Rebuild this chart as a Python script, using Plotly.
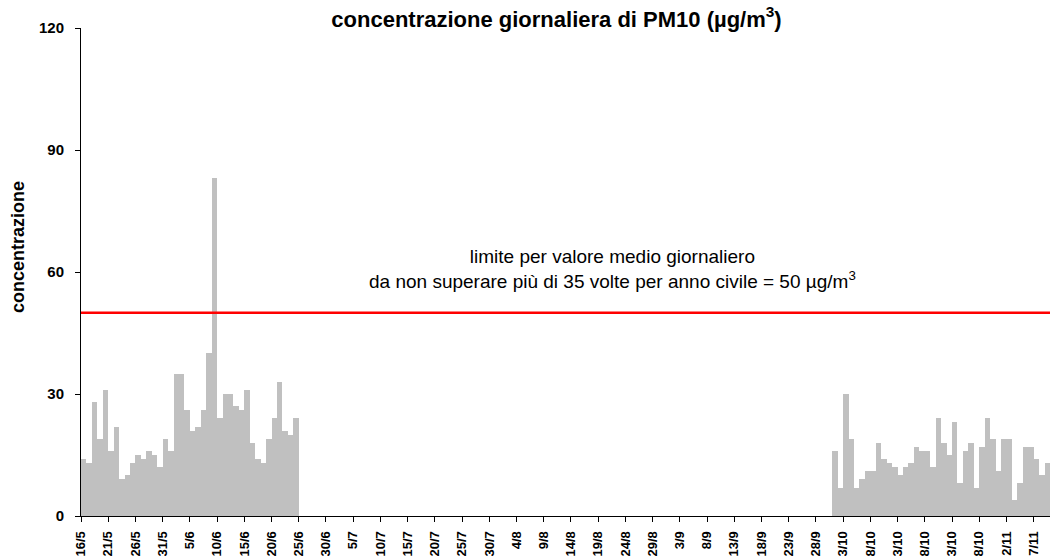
import pandas as pd
import plotly.graph_objects as go

# Daily PM10 concentrations (µg/m³)
start_date = "2023-05-16"
end_date = "2023-11-09"

# 16/5 - 24/6
values_spring = [14, 13, 28, 19, 31, 16, 22, 9, 10, 13,
                 15, 14, 16, 15, 12, 19, 16, 35, 35, 26,
                 21, 22, 26, 40, 83, 24, 30, 30, 27, 26,
                 31, 18, 14, 13, 19, 24, 33, 21, 20, 24]
spring_start = "2023-05-16"

# 1/10 - 9/11
values_autumn = [16, 7, 30, 19, 7, 9, 11, 11, 18, 14,
                 13, 12, 10, 12, 13, 17, 16, 16, 12, 24,
                 18, 15, 23, 8, 16, 18, 7, 17, 24, 19,
                 11, 19, 19, 4, 8, 17, 17, 14, 10, 13]
autumn_start = "2023-10-01"

limit_value = 50
y_ticks = [0, 30, 60, 90, 120]

dates = pd.date_range(start_date, end_date, freq="D")
series = pd.Series(index=dates, dtype=float)
series.loc[pd.date_range(spring_start, periods=len(values_spring), freq="D")] = values_spring
series.loc[pd.date_range(autumn_start, periods=len(values_autumn), freq="D")] = values_autumn

FONT = "Liberation Sans, Arial, sans-serif"

fig = go.Figure()
fig.add_trace(go.Bar(
    x=series.index,
    y=[None if pd.isna(v) else v for v in series.values],
    xperiod=86400000,
    xperiodalignment="middle",
    marker=dict(color="#C0C0C0", line=dict(width=0)),
    width=86400000,
    showlegend=False,
    hoverinfo="x+y",
))

fig.add_shape(type="line", xref="paper", yref="y", x0=0, x1=1,
              y0=limit_value, y1=limit_value,
              line=dict(color="#FF0000", width=2.5))

fig.add_annotation(
    xref="paper", yref="paper", x=0.549, y=0.507,
    text="limite per valore medio giornaliero<br>da non superare più di 35 volte per anno civile = 50 µg/m<sup>3</sup>",
    showarrow=False, align="center",
    font=dict(family=FONT, size=19, color="#000000"),
    xanchor="center", yanchor="middle",
)

# y-axis title
fig.add_annotation(
    xref="paper", yref="paper", x=0, y=0.551,
    xshift=-63, xanchor="center", yanchor="middle",
    text="<b>concentrazione</b>", textangle=-90, showarrow=False,
    font=dict(family=FONT, size=18, color="#000000"),
)

end_range = (pd.Timestamp(end_date) + pd.Timedelta(days=1)).strftime("%Y-%m-%d")

fig.update_layout(
    width=1050, height=556,
    paper_bgcolor="white", plot_bgcolor="white",
    margin=dict(l=81, r=0, t=28, b=40),
    bargap=0,
    title=dict(
        text="<b>concentrazione giornaliera di PM10 (µg/m<sup>3</sup>)</b>",
        x=0.53, xanchor="center", y=0.966, yanchor="middle",
        font=dict(family=FONT, size=22, color="#000000"),
    ),
    font=dict(family=FONT, color="#000000"),
    xaxis=dict(
        type="date",
        range=[start_date, end_range],
        tick0=start_date,
        dtick=5 * 86400000,
        tickformat="%-d/%-m",
        tickangle=-90,
        ticks="outside", ticklen=5, tickcolor="#000000", tickwidth=1,
        showline=True, linecolor="#000000", linewidth=1,
        showgrid=False, zeroline=False,
        ticklabelstandoff=4,
        tickfont=dict(family=FONT, size=13, color="#000000", weight="bold"),
        automargin=False,
    ),
    yaxis=dict(
        range=[0, 120],
        tickvals=y_ticks,
        ticks="outside", ticklen=5, tickcolor="#000000", tickwidth=1,
        showline=True, linecolor="#000000", linewidth=1,
        showgrid=False, zeroline=False,
        ticklabelstandoff=8,
        tickfont=dict(family=FONT, size=15, color="#000000", weight="bold"),
        automargin=False,
    ),
)

fig.write_html(
    "out.html",
    config={"displayModeBar": False},
    post_script="document.body.style.margin='0';document.body.style.padding='0';",
)
